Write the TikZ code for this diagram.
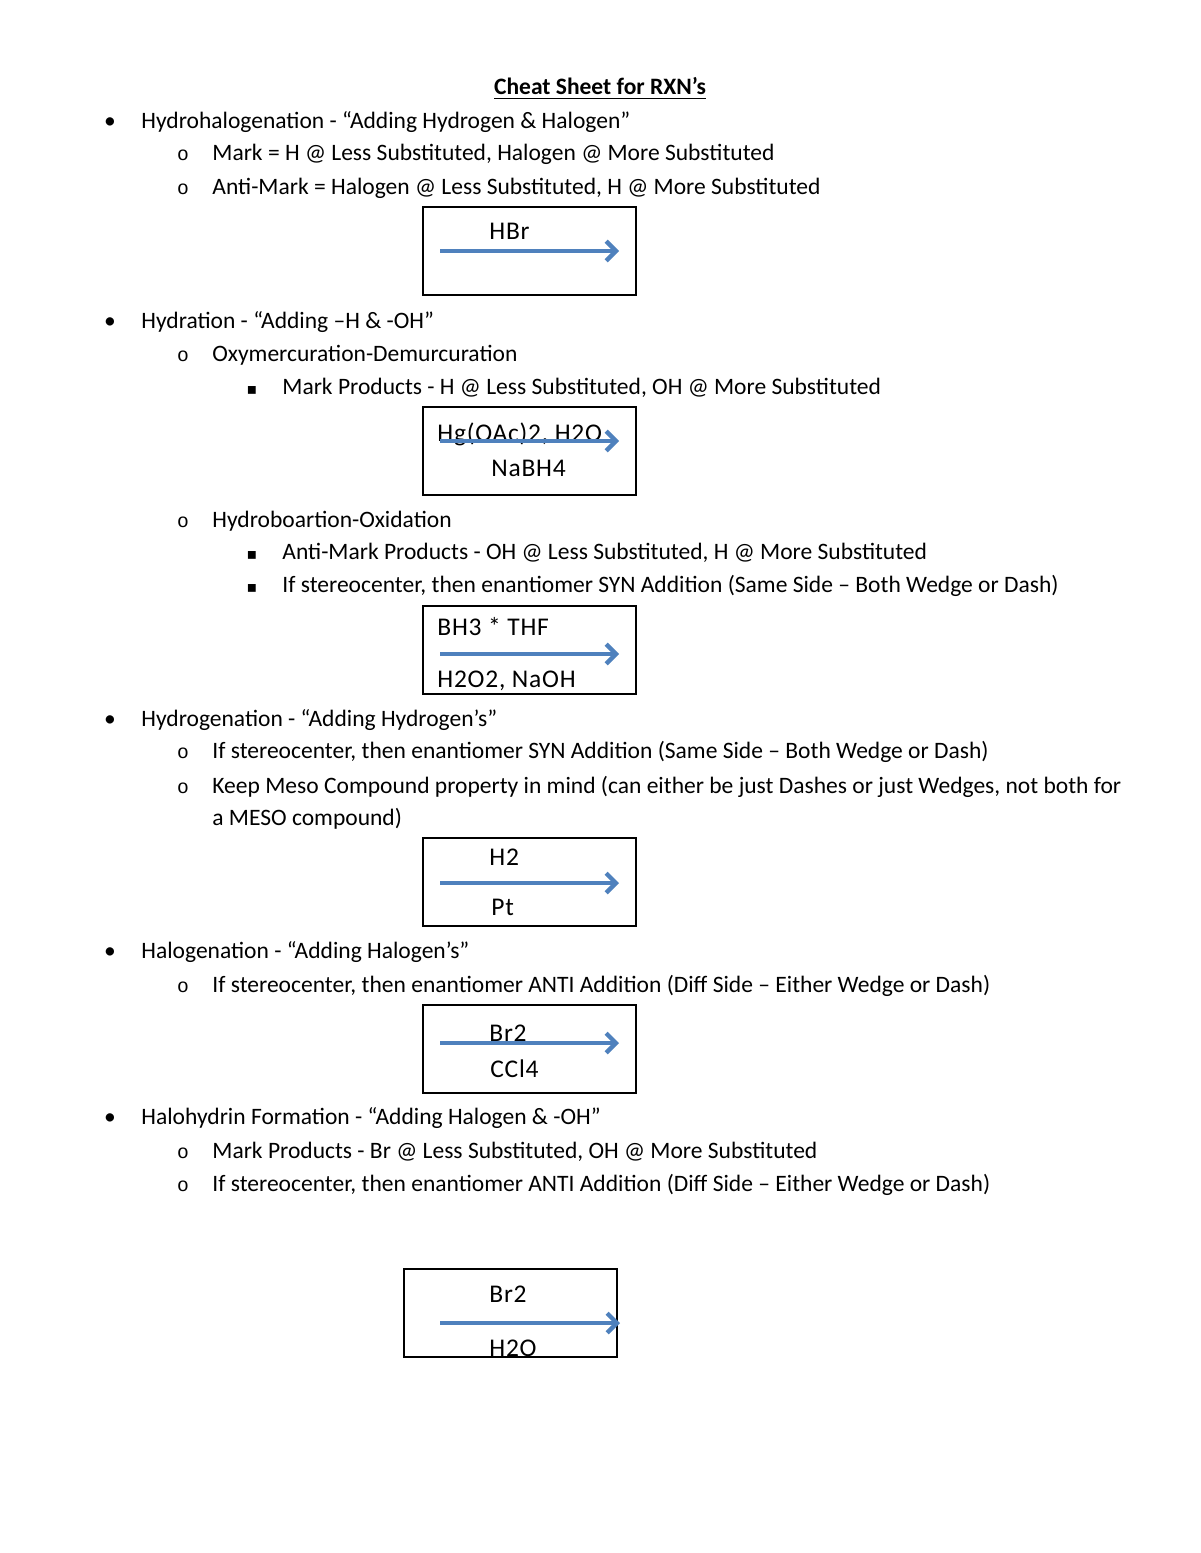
\documentclass[tikz,border=0pt]{standalone}
\usepackage{fontspec}
\setmainfont{Carlito}
\newfontfamily\bulletmono{Liberation Mono}
\newfontfamily\bulletdv{DejaVu Sans}
\usetikzlibrary{arrows.meta}
\definecolor{arrowblue}{RGB}{79,129,189}
\newcommand{\subbul}{{\bulletmono\fontsize{10}{12}\selectfont o}}
\begin{document}
\begin{tikzpicture}[x=0.51pt,y=-0.51pt,
  txt/.style={anchor=base west,inner sep=0pt,font=\fontsize{12}{14}\selectfont},
  bul/.style={anchor=base,inner sep=0pt,font=\fontsize{12}{14}\selectfont},
  rbox/.style={draw=black,line width=1pt,anchor=north west,inner sep=0pt,outer sep=0pt,
    minimum width=108.6pt,minimum height=45pt},
  btxt/.style={anchor=base west,inner sep=0pt,font=\fontsize{13}{15}\selectfont\addfontfeatures{LetterSpace=3}},
  rarrow/.style={draw=arrowblue,line width=2.2pt,-{Straight Barb[length=5pt,width=10pt]}}
]
\fill[white] (0,0) rectangle (1200,1553);
\useasboundingbox (0,0) rectangle (1200,1553);

% Title
\node[anchor=base,inner sep=0pt,font=\fontsize{12}{14}\selectfont\bfseries] (title) at (600,95) {\underline{Cheat Sheet for RXN’s}};

% Hydrohalogenation
\node[bul] (b1) at (110,129) {•};
\node[txt] (t1) at (141,129) {Hydrohalogenation - “Adding Hydrogen \& Halogen”};
\node[bul] (o1) at (183,161) {\subbul};
\node[txt] (t1a) at (212,161) {Mark = H @ Less Substituted, Halogen @ More Substituted};
\node[bul] (o2) at (183,195) {\subbul};
\node[txt] (t1b) at (212,195) {Anti-Mark = Halogen @ Less Substituted, H @ More Substituted};

\node[rbox] (box1) at (423,207) {};
\node[btxt] (r1) at (489,239) {HBr};
\coordinate (a1s) at (440,251); \coordinate (a1e) at (619,251);
\draw[rarrow] (a1s) -- (a1e);

% Hydration
\node[bul] (b2) at (110,328) {•};
\node[txt] (t2) at (141,328) {Hydration - “Adding –H \& -OH”};
\node[bul] (o3) at (183,361) {\subbul};
\node[txt] (t2a) at (212,361) {Oxymercuration-Demurcuration};
\node[bul] (s1) at (252,394) {\bulletdv\fontsize{8}{10}\selectfont ▪};
\node[txt] (t2a1) at (282,394) {Mark Products - H @ Less Substituted, OH @ More Substituted};

\node[rbox] (box2) at (423,407) {};
\node[btxt] (r2a) at (437,441) {Hg(OAc)2, H2O};
\node[btxt] (r2b) at (491,476) {NaBH4};
\coordinate (a2s) at (440,441); \coordinate (a2e) at (619,441);
\draw[rarrow] (a2s) -- (a2e);

\node[bul] (o4) at (183,527) {\subbul};
\node[txt] (t2b) at (212,527) {Hydroboartion-Oxidation};
\node[bul] (s2) at (252,559) {\bulletdv\fontsize{8}{10}\selectfont ▪};
\node[txt] (t2b1) at (282,559) {Anti-Mark Products - OH @ Less Substituted, H @ More Substituted};
\node[bul] (s3) at (252,592) {\bulletdv\fontsize{8}{10}\selectfont ▪};
\node[txt] (t2b2) at (282,592) {If stereocenter, then enantiomer SYN Addition (Same Side – Both Wedge or Dash)};

\node[rbox] (box3) at (423,606) {};
\node[btxt] (r3a) at (437,635) {BH3 * THF};
\node[btxt] (r3b) at (437,687) {H2O2, NaOH};
\coordinate (a3s) at (440,654); \coordinate (a3e) at (619,654);
\draw[rarrow] (a3s) -- (a3e);

% Hydrogenation
\node[bul] (b3) at (110,726) {•};
\node[txt] (t3) at (141,726) {Hydrogenation - “Adding Hydrogen’s”};
\node[bul] (o5) at (183,758) {\subbul};
\node[txt] (t3a) at (212,758) {If stereocenter, then enantiomer SYN Addition (Same Side – Both Wedge or Dash)};
\node[bul] (o6) at (183,793) {\subbul};
\node[txt] (t3b) at (212,793) {Keep Meso Compound property in mind (can either be just Dashes or just Wedges, not both for};
\node[txt] (t3c) at (212,825) {a MESO compound)};

\node[rbox] (box4) at (423,838) {};
\node[btxt] (r4a) at (489,865) {H2};
\node[btxt] (r4b) at (491,915) {Pt};
\coordinate (a4s) at (440,883); \coordinate (a4e) at (619,883);
\draw[rarrow] (a4s) -- (a4e);

% Halogenation
\node[bul] (b4) at (110,958) {•};
\node[txt] (t4) at (141,958) {Halogenation - “Adding Halogen’s”};
\node[bul] (o7) at (183,992) {\subbul};
\node[txt] (t4a) at (212,992) {If stereocenter, then enantiomer ANTI Addition (Diff Side – Either Wedge or Dash)};

\node[rbox] (box5) at (423,1005) {};
\node[btxt] (r5a) at (489,1041) {Br2};
\node[btxt] (r5b) at (490,1077) {CCl4};
\coordinate (a5s) at (440,1043); \coordinate (a5e) at (619,1043);
\draw[rarrow] (a5s) -- (a5e);

% Halohydrin
\node[bul] (b5) at (110,1124) {•};
\node[txt] (t5) at (141,1124) {Halohydrin Formation - “Adding Halogen \& -OH”};
\node[bul] (o8) at (183,1158) {\subbul};
\node[txt] (t5a) at (212,1158) {Mark Products - Br @ Less Substituted, OH @ More Substituted};
\node[bul] (o9) at (183,1191) {\subbul};
\node[txt] (t5b) at (212,1191) {If stereocenter, then enantiomer ANTI Addition (Diff Side – Either Wedge or Dash)};

\node[rbox] (box6) at (404,1269) {};
\node[btxt] (r6a) at (489,1302) {Br2};
\node[btxt] (r6b) at (489,1356) {H2O};
\coordinate (a6s) at (440,1323); \coordinate (a6e) at (620,1323);
\draw[rarrow] (a6s) -- (a6e);
\end{tikzpicture}
\end{document}
